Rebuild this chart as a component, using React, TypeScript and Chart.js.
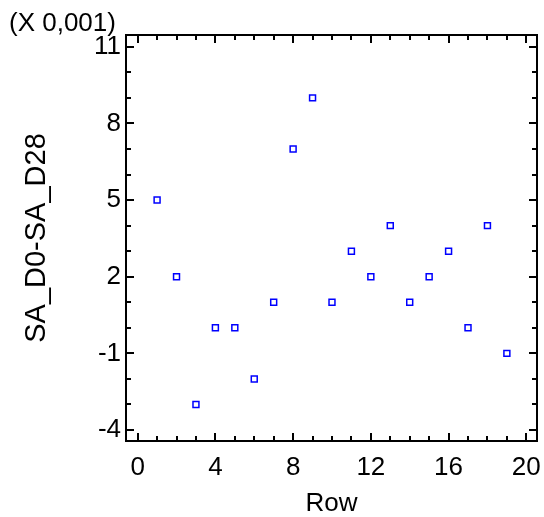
import React, { useEffect, useRef } from "react";
import { Chart, registerables } from "chart.js";

Chart.register(...registerables);

const ROWS = [1, 2, 3, 4, 5, 6, 7, 8, 9, 10, 11, 12, 13, 14, 15, 16, 17, 18, 19];
const VALUES = [5, 2, -3, 0, 0, -2, 1, 7, 9, 1, 3, 2, 4, 1, 2, 3, 0, 4, -1]; // x 0,001
const X_TICKS = [0, 4, 8, 12, 16, 20];
const Y_TICKS = [-4, -1, 2, 5, 8, 11];
const X_RANGE = [-0.6, 20.55];
const Y_RANGE = [-4.43, 11.46];
const SCALE_NOTE = "(X 0,001)";
const X_TITLE = "Row";
const Y_TITLE = "SA_D0-SA_D28";

const FONT_FAMILY = "'Liberation Sans', Arial, Helvetica, sans-serif";
const FONT_SIZE = 26;

const framePlugin = {
  id: "frameTicks",
  afterDraw(chart: any) {
    const { ctx, chartArea } = chart;
    const { left, right, top, bottom } = chartArea;
    const xs = chart.scales.x;
    const ys = chart.scales.y;
    ctx.save();
    ctx.strokeStyle = "#000";
    ctx.lineWidth = 2;
    ctx.strokeRect(left, top, right - left, bottom - top);
    ctx.beginPath();
    for (let v = Math.ceil(X_RANGE[0]); v <= Math.floor(X_RANGE[1]); v++) {
      const len = X_TICKS.includes(v) ? 8 : 5;
      const px = Math.round(xs.getPixelForValue(v));
      ctx.moveTo(px, bottom);
      ctx.lineTo(px, bottom - len);
      ctx.moveTo(px, top);
      ctx.lineTo(px, top + len);
    }
    for (let v = Math.ceil(Y_RANGE[0]); v <= Math.floor(Y_RANGE[1]); v++) {
      const len = Y_TICKS.includes(v) ? 8 : 5;
      const py = Math.round(ys.getPixelForValue(v));
      ctx.moveTo(left, py);
      ctx.lineTo(left + len, py);
      ctx.moveTo(right, py);
      ctx.lineTo(right - len, py);
    }
    ctx.stroke();
    ctx.fillStyle = "#000";
    ctx.font = `${FONT_SIZE}px ${FONT_FAMILY}`;
    ctx.textAlign = "left";
    ctx.textBaseline = "middle";
    ctx.fillText(SCALE_NOTE, 9, 24);
    ctx.restore();
  },
};

export default function App() {
  const ref = useRef<HTMLCanvasElement>(null);
  useEffect(() => {
    if (!ref.current) return;
    const chart = new Chart(ref.current, {
      type: "scatter",
      data: {
        datasets: [
          {
            data: ROWS.map((r, i) => ({ x: r, y: VALUES[i] })),
            pointStyle: "rect",
            pointRadius: 4.2,
            pointHoverRadius: 4.2,
            borderWidth: 1.5,
            borderColor: "#0000ff",
            backgroundColor: "#ffffff",
          },
        ],
      },
      options: {
        animation: false,
        responsive: false,
        devicePixelRatio: 1,
        layout: { padding: { left: 0, top: 35, right: 7, bottom: 0 } },
        plugins: { legend: { display: false }, tooltip: { enabled: false } },
        scales: {
          x: {
            type: "linear",
            min: X_RANGE[0],
            max: X_RANGE[1],
            afterBuildTicks: (s: any) => {
              s.ticks = X_TICKS.map((v) => ({ value: v }));
            },
            afterFit: (s: any) => {
              s.height = 76;
              s.paddingLeft = 0;
              s.paddingRight = 0;
            },
            grid: { display: false, drawTicks: false },
            border: { display: false },
            ticks: {
              padding: 11,
              color: "#000",
              font: { family: FONT_FAMILY, size: FONT_SIZE },
              maxRotation: 0,
              autoSkip: false,
              callback: (v: any) => String(v),
            },
            title: {
              display: true,
              text: X_TITLE,
              color: "#000",
              font: { family: FONT_FAMILY, size: FONT_SIZE, lineHeight: 1 },
              padding: { top: 0, bottom: 0 },
            },
          },
          y: {
            type: "linear",
            min: Y_RANGE[0],
            max: Y_RANGE[1],
            afterBuildTicks: (s: any) => {
              s.ticks = Y_TICKS.map((v) => ({ value: v }));
            },
            afterFit: (s: any) => {
              s.width = 126;
              s.paddingTop = 0;
              s.paddingBottom = 0;
            },
            grid: { display: false, drawTicks: false },
            border: { display: false },
            ticks: {
              padding: 5,
              color: "#000",
              font: { family: FONT_FAMILY, size: FONT_SIZE },
              autoSkip: false,
              callback: (v: any) => String(v),
            },
            title: {
              display: true,
              text: Y_TITLE,
              color: "#000",
              font: { family: FONT_FAMILY, size: 29, lineHeight: 1 },
              padding: { top: 22, bottom: 0 },
            },
          },
        },
      },
      plugins: [framePlugin],
    });
    return () => chart.destroy();
  }, []);
  return (
    <div style={{ position: "fixed", left: 0, top: 0, width: 544, height: 517, background: "#fff" }}>
      <canvas ref={ref} width={544} height={517} style={{ width: 544, height: 517 }} />
    </div>
  );
}
